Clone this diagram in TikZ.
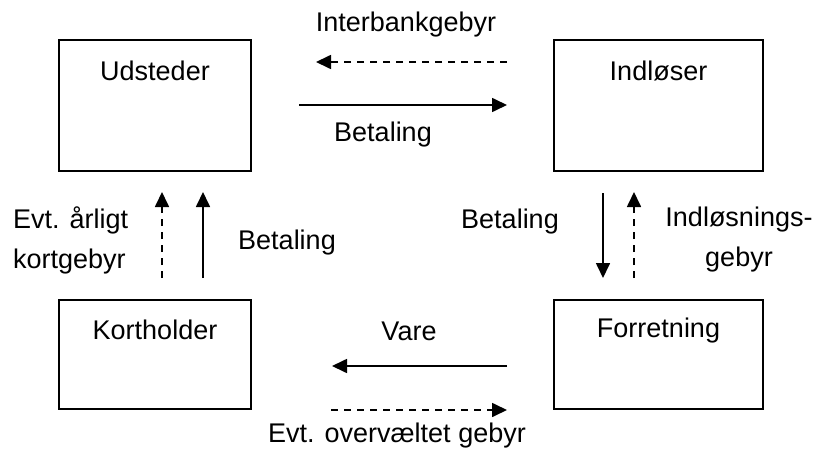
\documentclass[tikz,border=0pt]{standalone}
\usepackage{fontspec}
\setmainfont{Liberation Sans}
\usetikzlibrary{arrows.meta}
\begin{document}
\begin{tikzpicture}[x=1pt,y=-1pt,
  every node/.style={font=\fontsize{27}{40}\selectfont, inner sep=0pt},
  party/.style={draw, line width=1.8pt, rectangle},
  flow/.style={line width=1.7pt, -{Triangle[length=15pt,width=14pt]}},
  fee/.style={flow, dash pattern=on 7pt off 6pt},
  tag/.style={anchor=center}]
\useasboundingbox (0,0) rectangle (814,452);

% the four parties
\node[party, minimum width=192pt, minimum height=131pt,
  label={[anchor=center,yshift=-32pt]north:Udsteder}] (uds) at (155,105.5) {};
\node[party, minimum width=209pt, minimum height=131pt,
  label={[anchor=center,yshift=-32pt]north:Indløser}] (ind) at (658.5,105.5) {};
\node[party, minimum width=192pt, minimum height=109pt,
  label={[anchor=center,yshift=-31pt]north:Kortholder}] (kor) at (155,354.5) {};
\node[party, minimum width=209pt, minimum height=109pt,
  label={[anchor=center,yshift=-31pt]north:Forretning}] (for) at (658.5,354.5) {};

% end points of the flows between the parties
\coordinate (ibA) at (507,62);  \coordinate (ibB) at (316,62);
\coordinate (btA) at (299,105); \coordinate (btB) at (507,105);
\coordinate (akA) at (162,278); \coordinate (akB) at (162,192);
\coordinate (kbA) at (203,278); \coordinate (kbB) at (203,192);
\coordinate (fbA) at (603,193); \coordinate (fbB) at (603,278);
\coordinate (igA) at (634,278); \coordinate (igB) at (634,192);
\coordinate (vaA) at (507,366); \coordinate (vaB) at (332,366);
\coordinate (ogA) at (331,410); \coordinate (ogB) at (507,410);

% flows
\draw[fee]  (ibA) -- (ibB);
\draw[flow] (btA) -- (btB);
\draw[fee]  (akA) -- (akB);
\draw[flow] (kbA) -- (kbB);
\draw[flow] (fbA) -- (fbB);
\draw[fee]  (igA) -- (igB);
\draw[flow] (vaA) -- (vaB);
\draw[fee]  (ogA) -- (ogB);

% flow labels
\node[tag] (tInterbank) at (406,25) {Interbankgebyr};
\node[tag] (tBetTop) at (383,135) {Betaling};
\node[anchor=west, align=left] (tAarlig) at (13,240) {Evt. årligt\\kortgebyr};
\node[tag] (tBetLeft) at (287,243) {Betaling};
\node[tag] (tBetRight) at (510,222) {Betaling};
\node[align=center] (tIndl) at (739,240) {Indløsnings-\\gebyr};
\node[tag] (tVare) at (409,331) {Vare};
\node[tag] (tOverv) at (397,436) {Evt. overvæltet gebyr};
\end{tikzpicture}
\end{document}
